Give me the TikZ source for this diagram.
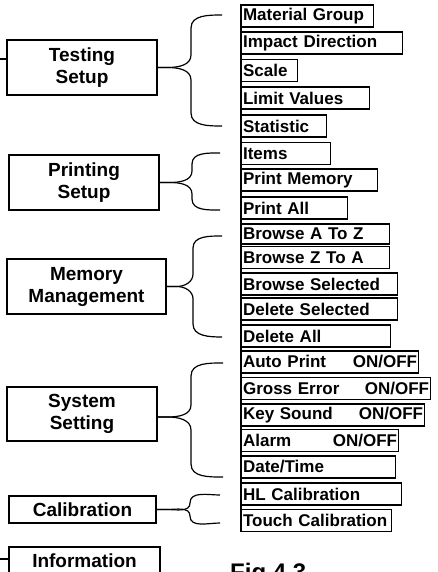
\documentclass[tikz,border=0pt]{standalone}
\usepackage{fontspec}
\setmainfont{Liberation Sans}
\tikzset{
	mainbox/.style={draw,line width=1.4pt,align=center,inner sep=0pt,font=\fontsize{19}{22}\selectfont\bfseries},
	itembox/.style={draw,line width=1.1pt,anchor=west,minimum height=22pt,inner xsep=1.5pt,inner ysep=0pt,align=left,font=\fontsize{17}{18}\selectfont\bfseries},
	curly/.style={line width=1.2pt}
}
\begin{document}
\begin{tikzpicture}[x=1pt,y=1pt]
			% 画面大小和原图一样,超出部分裁掉
			\useasboundingbox (0,0) rectangle (438,-572);
			\clip (0,0) rectangle (438,-572);
			% 左边的大框
			\node[mainbox,minimum width=150,minimum height=55] (testing) at (82,-67.5) {Testing\\Setup};
			\node[mainbox,minimum width=150,minimum height=55] (printing) at (84,-182.5) {Printing\\Setup};
			\node[mainbox,minimum width=159,minimum height=55] (memory) at (86.5,-286.5) {Memory\\Management};
			\node[mainbox,minimum width=150,minimum height=54] (system) at (82,-414) {System\\Setting};
			\node[mainbox,minimum width=147,minimum height=27] (calib) at (82.5,-509.5) {Calibration};
			\node[mainbox,minimum width=151,minimum height=27] (info) at (84.5,-560.5) {Information};
			% 右边的小框,text width = 宽度-3
			\node[itembox,text width=129] (mat) at (241,-16) {Material Group};
			\node[itembox,text width=158] (imp) at (241,-43) {Impact Direction};
			\node[itembox,text width=53] (scale) at (241,-70.5) {Scale};
			\node[itembox,text width=125] (limit) at (241,-98) {Limit Values};
			\node[itembox,text width=82] (stat) at (241,-126) {Statistic};
			\node[itembox,text width=86] (items) at (241,-153.5) {Items};
			\node[itembox,text width=133] (pmem) at (241,-180) {Print\ Memory};
			\node[itembox,text width=103] (pall) at (241,-208) {Print\ All};
			\node[itembox,text width=145,minimum height=20] (baz) at (241,-234) {Browse A To Z};
			\node[itembox,text width=145] (bza) at (241,-257.5) {Browse Z To A};
			\node[itembox,text width=153] (bsel) at (241,-284) {Browse Selected};
			\node[itembox,text width=153] (dsel) at (241,-309) {Delete Selected};
			\node[itembox,text width=146] (dall) at (241,-336) {Delete All};
			\node[itembox,text width=174] (auto) at (241,-362) {Auto Print\hfill ON/OFF};
			\node[itembox,text width=186] (gross) at (241,-388.5) {Gross\ Error\hfill ON/OFF\hspace{6pt}};
			\node[itembox,text width=180] (key) at (241,-415) {Key Sound\hfill ON/OFF\hspace{2pt}};
			\node[itembox,text width=154] (alarm) at (241,-440.5) {Alarm\hfill ON/OFF\hspace{2pt}};
			\node[itembox,text width=151] (date) at (241,-467) {Date/Time};
			\node[itembox,text width=157] (hl) at (241,-494) {HL\ Calibration};
			\node[itembox,text width=147] (touch) at (241,-520.5) {Touch\ Calibration};
			\draw[line width=1.1pt] (mat.north west) -- (touch.south west);
			% 大括号的端点
			\coordinate (tsA) at (222,-15);
			\coordinate (tsB) at (222,-126);
			\coordinate (psA) at (220,-153);
			\coordinate (psB) at (220,-210);
			\coordinate (mmA) at (222,-236);
			\coordinate (mmB) at (222,-337);
			\coordinate (ssA) at (223,-363);
			\coordinate (ssB) at (223,-477);
			\coordinate (clA) at (220,-495);
			\coordinate (clB) at (220,-523);
			% 大括号,上下两半分开画
			\draw[curly] (testing.east) -- ++(10,0) to[out=0,in=-90] (191,-55) -- (191,-28) to[out=90,in=180] (tsA);
			\draw[curly] (testing.east) -- ++(10,0) to[out=0,in=90] (191,-80) -- (191,-113) to[out=-90,in=180] (tsB);
			\draw[curly] (printing.east) -- ++(10,0) to[out=0,in=-90] (192,-171) -- (192,-164) to[out=90,in=180] (psA);
			\draw[curly] (printing.east) -- ++(10,0) to[out=0,in=90] (192,-194) -- (192,-199) to[out=-90,in=180] (psB);
			\draw[curly] (memory.east) -- ++(10,0) to[out=0,in=-90] (193,-274) -- (193,-248) to[out=90,in=180] (mmA);
			\draw[curly] (memory.east) -- ++(10,0) to[out=0,in=90] (193,-299) -- (193,-324) to[out=-90,in=180] (mmB);
			\draw[curly] ([yshift=-3pt]system.east) -- ++(10,0) to[out=0,in=-90] (191,-405) -- (191,-376) to[out=90,in=180] (ssA);
			\draw[curly] ([yshift=-3pt]system.east) -- ++(10,0) to[out=0,in=90] (191,-430) -- (191,-464) to[out=-90,in=180] (ssB);
			\draw[curly] (calib.east) -- ++(10,0) to[out=0,in=-90] (190,-503) to[out=90,in=180] (clA);
			\draw[curly] (calib.east) -- ++(10,0) to[out=0,in=90] (190,-516) to[out=-90,in=180] (clB);
			% 左边伸出去的短线
			\coordinate (lA) at (0,-59);
			\coordinate (lB) at (0,-559);
			\draw[line width=1.2pt] (testing.west|-lA) -- (lA);
			\draw[line width=1.2pt] (info.west|-lB) -- (lB);
			\node[font=\fontsize{24}{26}\selectfont\bfseries,anchor=base west,inner sep=0pt] (fig) at (230,-580) {Fig 4.3};
		\end{tikzpicture}
\end{document}
